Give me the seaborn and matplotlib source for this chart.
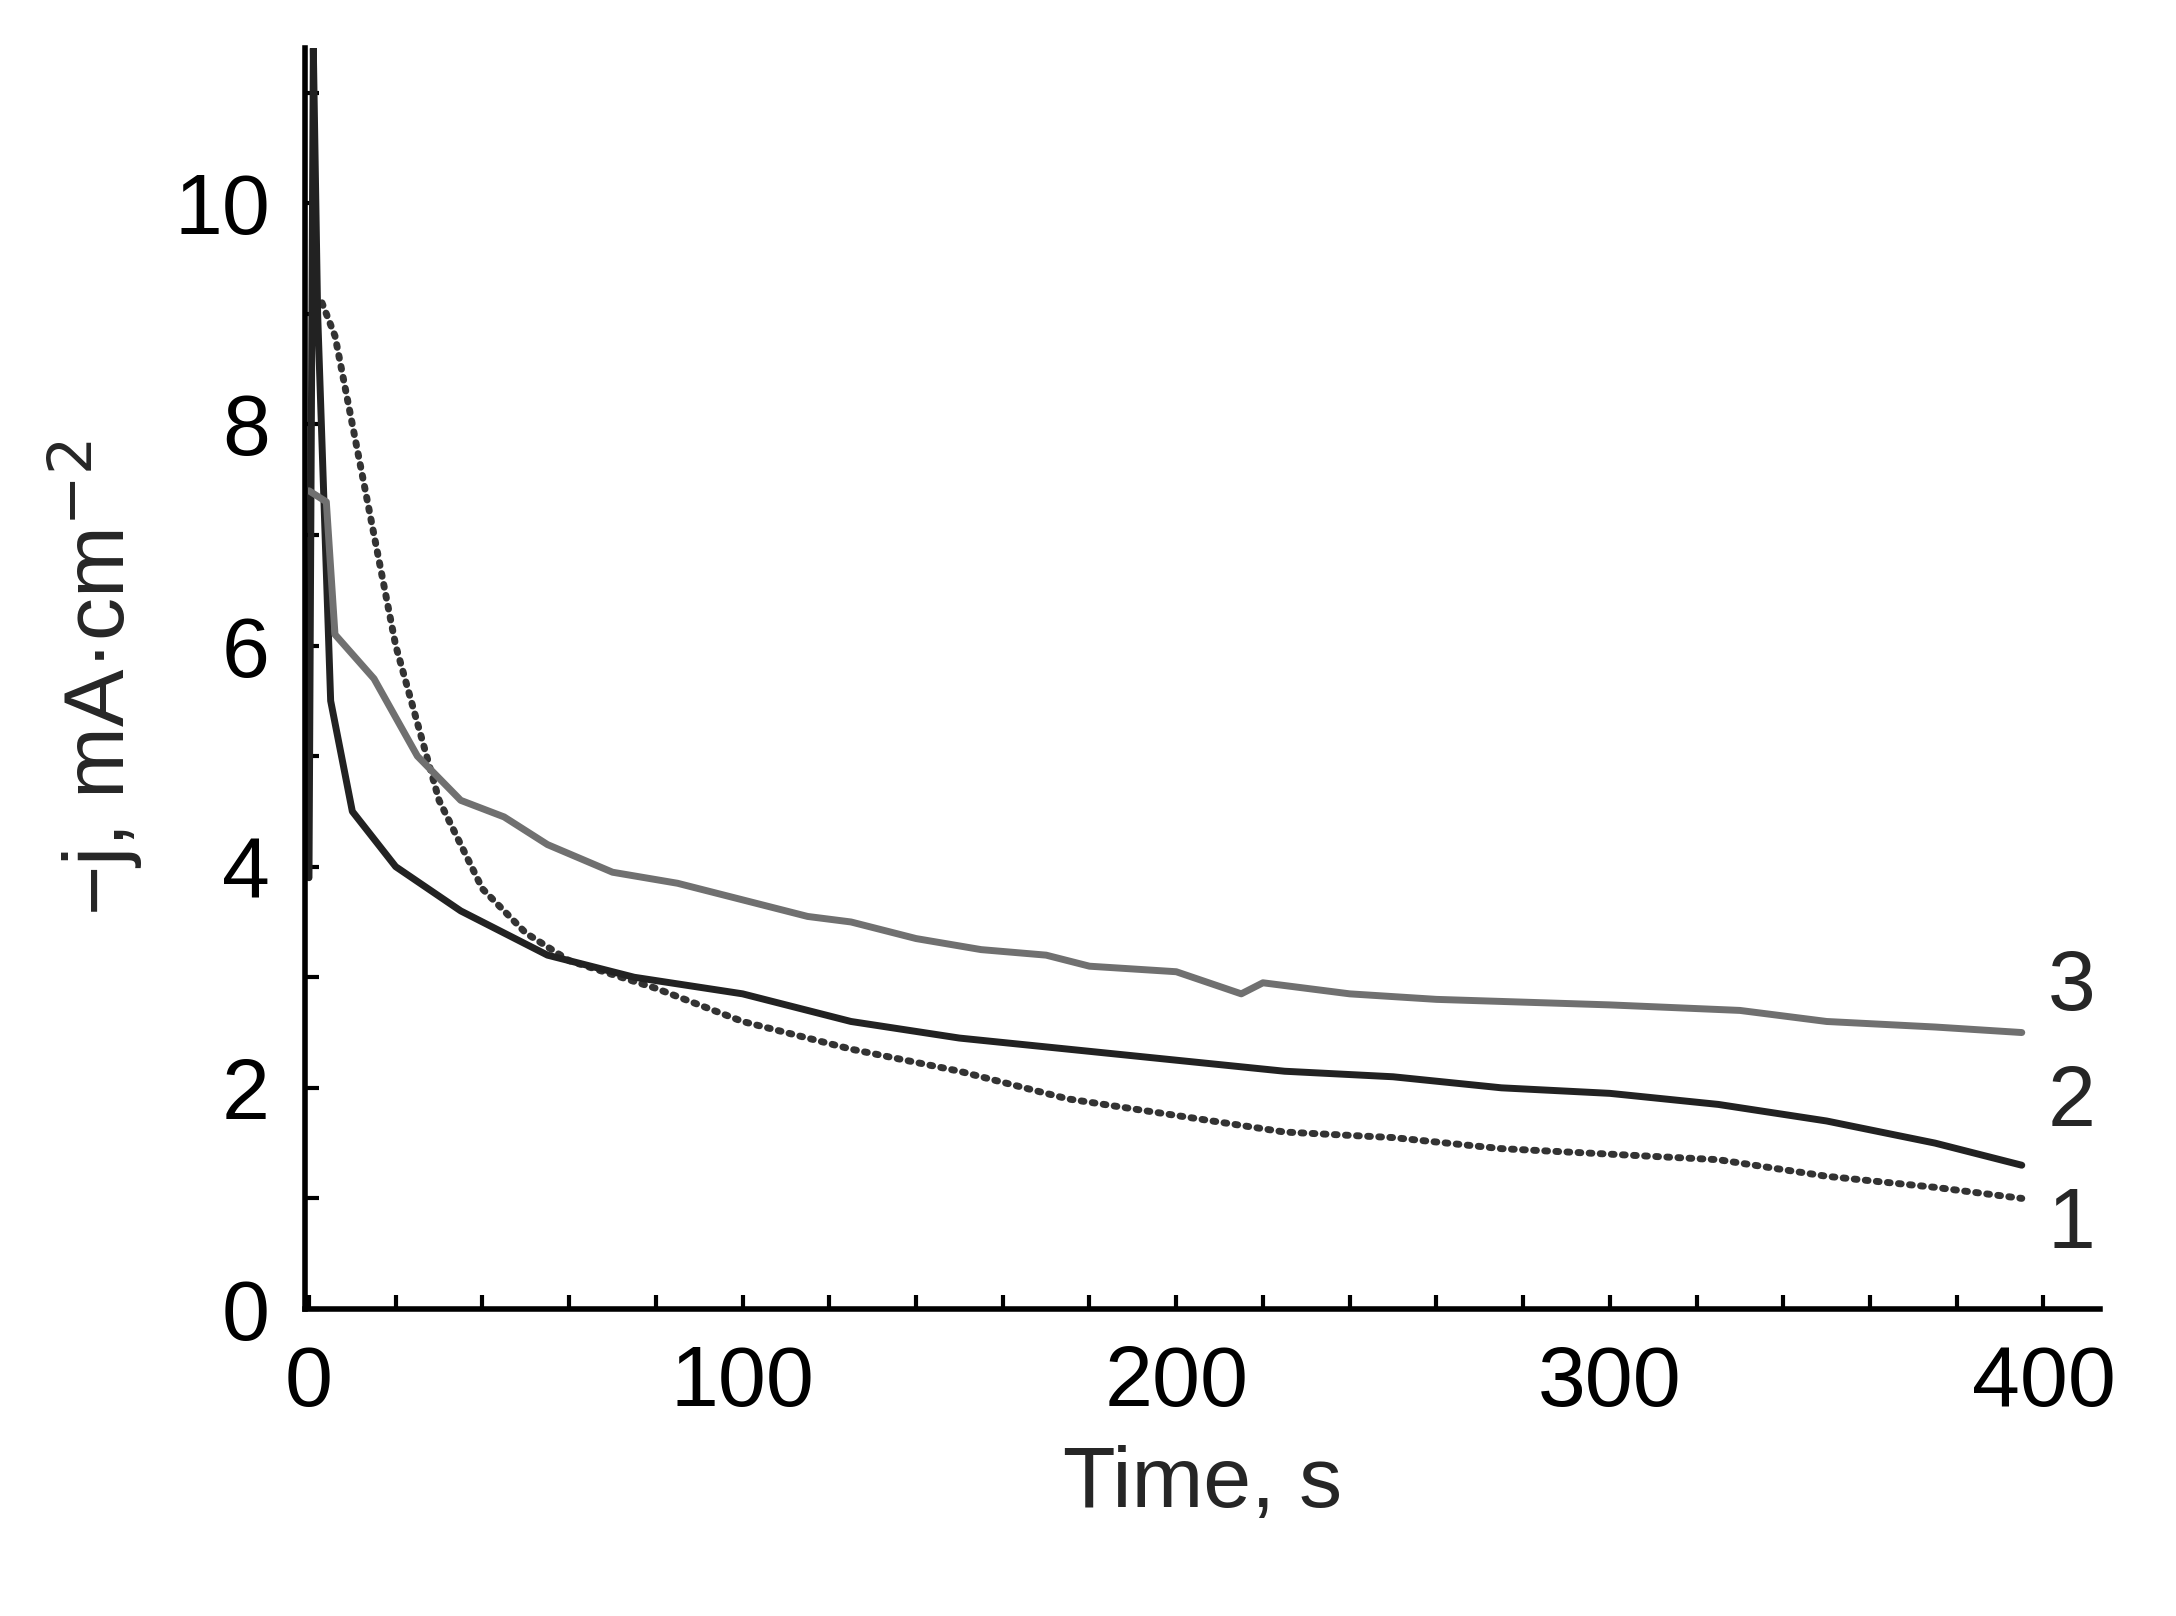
import matplotlib
matplotlib.use("Agg")
from matplotlib import pyplot as plt
from matplotlib.ticker import MultipleLocator
import seaborn as sns

# curve 1 (dotted)
t1 = [3, 6, 10, 15, 20, 25, 30, 40, 50, 60, 80, 100, 125, 150, 175, 200, 225, 250, 275, 300, 325, 350, 375, 395]
j1 = [9.1, 8.8, 8.0, 7.0, 6.0, 5.3, 4.6, 3.8, 3.4, 3.15, 2.9, 2.6, 2.35, 2.15, 1.9, 1.75, 1.6, 1.55, 1.45, 1.4, 1.35, 1.2, 1.1, 1.0]
# curve 2 (solid dark)
t2 = [0, 1, 2, 5, 10, 20, 35, 55, 75, 100, 125, 150, 175, 200, 225, 250, 275, 300, 325, 350, 375, 395]
j2 = [3.9, 11.4, 9.0, 5.5, 4.5, 4.0, 3.6, 3.2, 3.0, 2.85, 2.6, 2.45, 2.35, 2.25, 2.15, 2.1, 2.0, 1.95, 1.85, 1.7, 1.5, 1.3]
# curve 3 (gray)
t3 = [0, 4, 6, 15, 25, 35, 45, 55, 70, 85, 100, 115, 125, 140, 155, 170, 180, 200, 215, 220, 240, 260, 300, 330, 350, 375, 395]
j3 = [7.4, 7.3, 6.1, 5.7, 5.0, 4.6, 4.45, 4.2, 3.95, 3.85, 3.7, 3.55, 3.5, 3.35, 3.25, 3.2, 3.1, 3.05, 2.85, 2.95, 2.85, 2.8, 2.75, 2.7, 2.6, 2.55, 2.5]
labels = ["1", "2", "3"]
label_y = [0.75, 1.85, 2.9]

sns.set_style("ticks")
plt.rcParams["font.family"] = ["Liberation Sans", "DejaVu Sans"]

fig = plt.figure(figsize=(21.76, 16.16), dpi=100)
ax = fig.add_axes([0.14, 0.19, 0.825, 0.78])

sns.lineplot(x=t1, y=j1, ax=ax, color="#333333", lw=5, linestyle=(0, (0.4, 1.2)),
             dash_capstyle="round")
sns.lineplot(x=t2, y=j2, ax=ax, color="#222222", lw=5)
sns.lineplot(x=t3, y=j3, ax=ax, color="#707070", lw=5)

for lab, y in zip(labels, label_y):
    ax.text(401, y, lab, fontsize=62, va="center", ha="left")

ax.set_xlim(-1, 413)
ax.set_ylim(0, 11.4)
ax.xaxis.set_major_locator(MultipleLocator(100))
ax.xaxis.set_minor_locator(MultipleLocator(20))
ax.yaxis.set_major_locator(MultipleLocator(2))
ax.yaxis.set_minor_locator(MultipleLocator(1))
ax.tick_params(which="both", direction="in", length=10, width=3, labelsize=62, pad=25,
               color="black", labelcolor="black")
for s in ["left", "bottom"]:
    ax.spines[s].set_linewidth(4)
    ax.spines[s].set_color("black")
sns.despine(ax=ax)
ax.set_xlabel("Time, s", fontsize=62, labelpad=15)
ax.set_ylabel("\u2212j, mA\u00b7cm$^{-2}$", fontsize=62, labelpad=20)

fig.savefig("out.png", dpi=100)
